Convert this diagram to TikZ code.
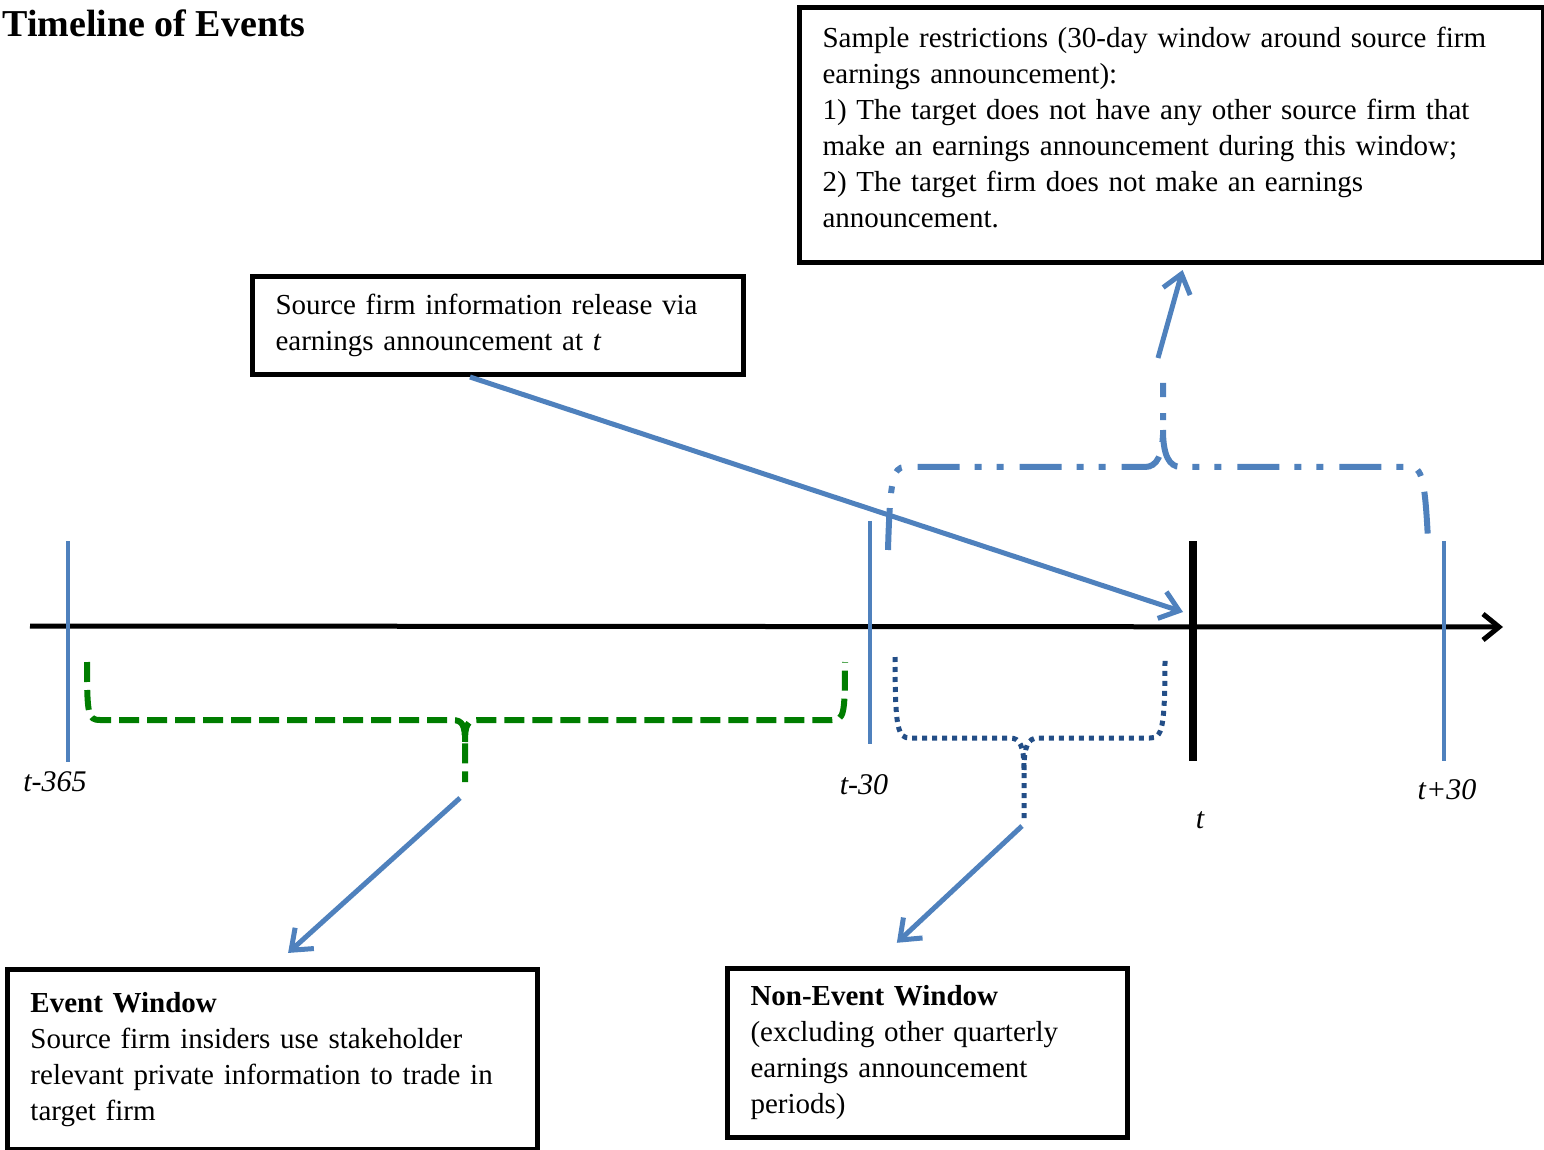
\documentclass[tikz,border=0pt]{standalone}
\usepackage{fontspec}
\setmainfont{Liberation Serif}
\usetikzlibrary{arrows.meta}
\definecolor{tlblue}{RGB}{79,129,189}
\definecolor{tlgreen}{RGB}{0,125,0}
\definecolor{tlnavy}{RGB}{35,78,135}
\begin{document}
\begin{tikzpicture}[x=0.5pt,y=-0.5pt,
		box/.style={draw,line width=2.5pt,anchor=north west,align=left,inner xsep=11.5pt,inner ysep=0pt,font=\fontsize{14.5}{18}\selectfont},
		tick/.style={tlblue,line width=2.2pt},
		lbl/.style={inner sep=0pt,font=\fontsize{15}{18}\selectfont\itshape},
		callout/.style={tlblue,line width=2.5pt,-{Straight Barb[length=9pt,width=14pt]}}]
		\useasboundingbox (0,0) rectangle (1544,1150);
		
		\node[anchor=base west,inner sep=0pt,font=\fontsize{19}{22}\selectfont\bfseries] (title) at (2,37) {Timeline of Events};
		
		\node[box,text width=349pt,minimum height=127.5pt] (restr) at (797,5) {Sample restrictions (30-day window around source firm\\ earnings announcement):\\ 1) The target does not have any other source firm that\\ make an earnings announcement during this window;\\ 2) The target firm does not make an earnings\\ announcement.\vspace{8pt}};
		\node[box,text width=222.5pt,minimum height=49pt] (src) at (250,274) {Source firm information release via\\ earnings announcement at \textit{t}};
		\node[box,text width=242pt,minimum height=90pt] (ev) at (5,967) {\textbf{Event Window}\\ Source firm insiders use stakeholder\\ relevant private information to trade in\\ target firm};
		\node[box,text width=177pt,minimum height=84.5pt] (nonev) at (725,966) {\textbf{Non-Event Window}\\ (excluding other quarterly\\ earnings announcement\\ periods)};
		
		\draw[line width=2.5pt,-{Straight Barb[length=8pt,width=13pt]}] (30,626) -- (1503,627);
		\draw[tick] (68,541) -- (68,762);
		\draw[tick] (870,521) -- (870,744);
		\draw[tick] (1444,541) -- (1444,761);
		\draw[line width=4pt] (1193,541) -- (1193,761);
		
		\node[lbl] (lm365) at (55,782) {t-365};
		\node[lbl] (lm30) at (864,785) {t-30};
		\node[lbl] (lt) at (1200,820) {t};
		\node[lbl] (lp30) at (1447,790) {t+30};
		
		\draw[tlgreen,line width=3pt,dash pattern=on 10pt off 4pt] (87,662) .. controls (87,715) and (88,720) .. (100,720) -- (452,720) .. controls (463,720) and (465,726) .. (465,742) -- (465,782)
			(465,742) .. controls (465,726) and (467,720) .. (478,720) -- (832,720) .. controls (844,720) and (845,715) .. (845,662);
		\draw[tlnavy,line width=2.5pt,dash pattern=on 2.5pt off 2.5pt] (895,657) .. controls (895,730) and (898,738) .. (910,738) -- (1010,738) .. controls (1020,738) and (1024,746) .. (1024,770) -- (1024,818)
			(1024,770) .. controls (1024,746) and (1028,738) .. (1038,738) -- (1150,738) .. controls (1162,738) and (1165,730) .. (1165,657);
		\draw[tlblue,line width=3pt,dash pattern=on 21pt off 7.5pt on 3.5pt off 7.5pt on 3.5pt off 8pt] (888,550) .. controls (890,480) and (893,467) .. (905,467) -- (1145,467) .. controls (1157,467) and (1163,455) .. (1163,430) -- (1163,383)
			(1163,430) .. controls (1163,455) and (1169,467) .. (1181,467) -- (1410,467) .. controls (1422,467) and (1425,480) .. (1428,540);
		
		\coordinate (tmark) at (1183,612);
		\coordinate (gtip) at (460,798);
		\coordinate (ntip) at (1022,826);
		\coordinate (utip) at (1158,358);
		
		\draw[callout] ([xshift=110pt]src.south west) -- (tmark);
		\draw[callout,shorten >=2.6pt] (utip) -- ([xshift=193.5pt]restr.south west);
		\draw[callout,shorten >=10.5pt] (gtip) -- ([xshift=133.75pt]ev.north west);
		\draw[callout,shorten >=17pt] (ntip) -- ([xshift=73.5pt]nonev.north west);
		
	\end{tikzpicture}
\end{document}
